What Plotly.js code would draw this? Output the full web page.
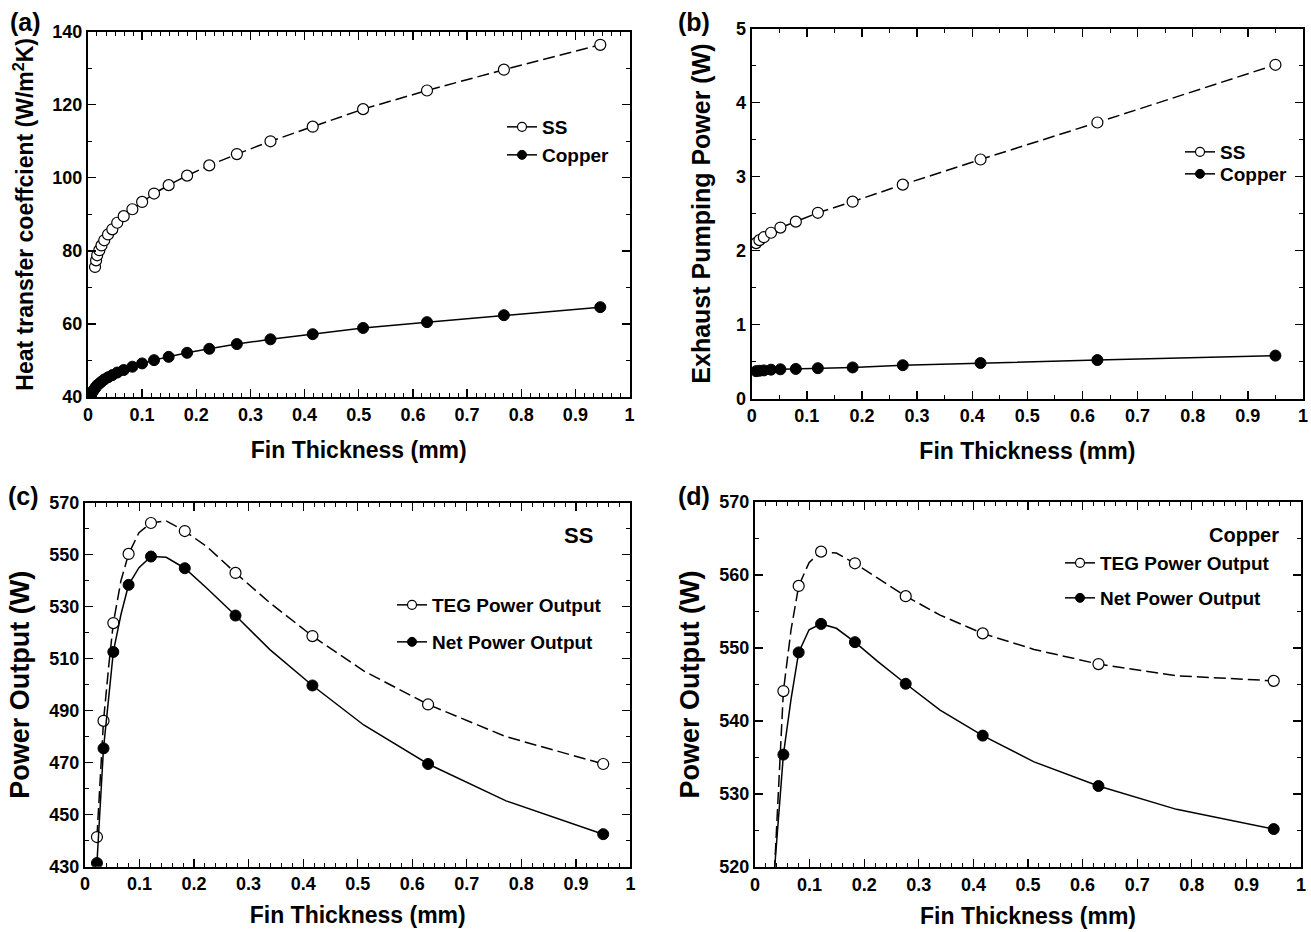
<!DOCTYPE html>
<html>
<head>
<meta charset="utf-8">
<script src="https://cdn.plot.ly/plotly-3.0.1.min.js"></script>
<style>html,body{margin:0;padding:0;background:#fff}#chart{width:1311px;height:932px}</style>
</head>
<body>
<div id="chart"></div>
<script>
// ---------- Data ----------
// (a) Heat transfer coefficient
const a_x_ss = [0.013,0.015,0.017,0.021,0.025,0.030,0.037,0.045,0.054,0.066,0.082,0.100,0.122,0.149,0.183,0.224,0.275,0.337,0.415,0.508,0.626,0.768,0.946];
const a_ss   = [75.6,77.4,78.8,80.2,81.5,82.9,84.5,85.9,87.7,89.5,91.4,93.4,95.7,98.0,100.6,103.4,106.5,110.0,114.0,118.8,123.9,129.6,136.4];
const a_x_cu = [0.005,0.007,0.009,0.011,0.013,0.015,0.017,0.021,0.025,0.030,0.037,0.045,0.054,0.066,0.082,0.100,0.122,0.149,0.183,0.224,0.275,0.337,0.415,0.508,0.626,0.768,0.946];
const a_cu   = [40.6,41.1,41.6,42.0,42.4,42.8,43.2,43.7,44.2,44.8,45.4,46.0,46.7,47.4,48.3,49.2,50.1,51.0,52.1,53.2,54.5,55.8,57.2,58.9,60.5,62.4,64.6];

// (b) Exhaust pumping power
const b_x  = [0.008,0.014,0.022,0.035,0.052,0.080,0.120,0.183,0.274,0.415,0.627,0.950];
const b_ss = [2.10,2.14,2.18,2.24,2.31,2.39,2.51,2.66,2.89,3.23,3.73,4.51];
const b_cu = [0.37,0.375,0.38,0.39,0.395,0.40,0.41,0.42,0.45,0.48,0.52,0.58];

// (c) Power output, SS
const c_x   = [0.022,0.029,0.034,0.044,0.052,0.066,0.080,0.099,0.121,0.149,0.183,0.224,0.276,0.339,0.417,0.511,0.629,0.772,0.95];
const c_teg = [441.4,468,486.1,508,523.7,540,550.3,558.5,562.2,563,559.1,553,543.0,531.5,518.7,505.3,492.4,480,469.5];
const c_net = [431.4,456,475.5,496,512.6,527,538.4,545,549.3,549,544.8,537,526.6,513.5,499.7,484.5,469.5,455.3,442.5];
const c_marked = [0,2,4,6,8,10,12,14,16,18];

// (d) Power output, Copper
const d_x   = [0.034,0.044,0.052,0.066,0.080,0.099,0.121,0.149,0.183,0.224,0.276,0.339,0.417,0.511,0.629,0.772,0.95];
const d_teg = [517,532,544.1,552.5,558.5,561.7,563.2,563,561.6,559.6,557.1,554.5,552.0,549.8,547.8,546.2,545.5];
const d_net = [518,527,535.4,543,549.4,552.5,553.3,552.7,550.8,548.2,545.1,541.5,538.0,534.4,531.1,527.9,525.2];
const d_marked = [2,4,6,8,10,12,14,16];

const lbl_ss = 'SS', lbl_cu = 'Copper', lbl_teg = 'TEG Power Output', lbl_net = 'Net Power Output';

// ---------- Styling ----------
const F = 'Liberation Sans, Arial, sans-serif';
const DASH = '12px,5px';
const openM = {symbol:'circle', size:11, color:'white', line:{color:'black', width:1.2}};
const fillM = {symbol:'circle', size:11, color:'black', line:{color:'black', width:1}};
const pick = (arr, idx) => idx.map(i => arr[i]);

const traces = [];
function series(x, y, xa, ya, dash, marker, mx, my){
  traces.push({x:x, y:y, xaxis:xa, yaxis:ya, mode:'lines', line:{color:'black', width:1.5, dash:dash}, showlegend:false, hoverinfo:'skip'});
  traces.push({x:mx, y:my, xaxis:xa, yaxis:ya, mode:'markers', marker:marker, showlegend:false});
}
function legendEntry(name, marker, lg, xa, ya){
  traces.push({x:[null], y:[null], xaxis:xa, yaxis:ya, mode:'lines+markers', name:name, legend:lg,
    line:{color:'black', width:1.5}, marker:Object.assign({}, marker, {size:9})});
}

// (a)
series(a_x_ss, a_ss, 'x', 'y', DASH, openM, a_x_ss, a_ss);
series(a_x_cu, a_cu, 'x', 'y', 'solid', fillM, a_x_cu, a_cu);
legendEntry(lbl_ss, openM, 'legend', 'x', 'y');
legendEntry(lbl_cu, fillM, 'legend2', 'x', 'y');
// (b)
series(b_x, b_ss, 'x2', 'y2', DASH, openM, b_x, b_ss);
series(b_x, b_cu, 'x2', 'y2', 'solid', fillM, b_x, b_cu);
legendEntry(lbl_ss, openM, 'legend3', 'x2', 'y2');
legendEntry(lbl_cu, fillM, 'legend4', 'x2', 'y2');
// (c)
series(c_x, c_teg, 'x3', 'y3', DASH, openM, pick(c_x, c_marked), pick(c_teg, c_marked));
series(c_x, c_net, 'x3', 'y3', 'solid', fillM, pick(c_x, c_marked), pick(c_net, c_marked));
legendEntry(lbl_teg, openM, 'legend5', 'x3', 'y3');
legendEntry(lbl_net, fillM, 'legend6', 'x3', 'y3');
// (d)
series(d_x, d_teg, 'x4', 'y4', DASH, openM, pick(d_x, d_marked), pick(d_teg, d_marked));
series(d_x, d_net, 'x4', 'y4', 'solid', fillM, pick(d_x, d_marked), pick(d_net, d_marked));
legendEntry(lbl_teg, openM, 'legend7', 'x4', 'y4');
legendEntry(lbl_net, fillM, 'legend8', 'x4', 'y4');

function ax(o){
  return Object.assign({
    showline:true, linewidth:2, linecolor:'black', mirror:'ticks',
    ticks:'inside', ticklen:8, tickwidth:1.3, tickcolor:'black',
    showgrid:false, zeroline:false, automargin:false, fixedrange:true,
    tickfont:{family:F, size:18, color:'black', weight:'bold'},
  }, o);
}
const tf = s => ({family:F, size:s, color:'black', weight:'bold'});
const xTitle = 'Fin Thickness (mm)';
const mn = (d) => ({dtick:d, ticklen:4, ticks:'inside', tickcolor:'black', tickwidth:1});

// one legend per entry: text starts at tx, item centred at cy (pixels)
function leg(tx, cy){
  return {x:(tx-40)/1311, y:1-(cy-19)/932, xanchor:'left', yanchor:'top', bgcolor:'rgba(0,0,0,0)', borderwidth:0,
    font:{family:F, size:19, color:'black', weight:'bold'}, itemwidth:30};
}

const layout = {
  width:1311, height:932, margin:{l:0, r:0, t:0, b:0},
  paper_bgcolor:'white', plot_bgcolor:'white', showlegend:true,
  xaxis: ax({domain:[0.0671,0.4802], range:[0,1], dtick:0.1, anchor:'y', minor:mn(1/60),
    title:{text:xTitle, font:tf(23), standoff:18}}),
  yaxis: ax({domain:[0.574,0.966], range:[40,140], dtick:20, anchor:'x', minor:mn(10),
    title:{text:'Heat transfer coeffcient (W/m<sup>2</sup>K)', font:tf(23), standoff:12}}),
  xaxis2: ax({domain:[0.5734,0.9939], range:[0,1], dtick:0.1, anchor:'y2', minor:mn(0.05),
    title:{text:xTitle, font:tf(23), standoff:18}}),
  yaxis2: ax({domain:[0.5724,0.9694], range:[0,5], dtick:1, anchor:'x2', minor:mn(0.5),
    title:{text:'Exhaust Pumping Power (W)', font:tf(25), standoff:18}}),
  xaxis3: ax({domain:[0.0648,0.4809], range:[0,1], dtick:0.1, anchor:'y3', minor:mn(0.02),
    title:{text:xTitle, font:tf(23), standoff:14}}),
  yaxis3: ax({domain:[0.0701,0.4606], range:[430,570], dtick:20, tick0:430, anchor:'x3', minor:{dtick:10, tick0:430, ticklen:4, ticks:'inside', tickcolor:'black', tickwidth:1},
    title:{text:'Power Output (W)', font:tf(27), standoff:12}}),
  xaxis4: ax({domain:[0.5759,0.9924], range:[0,1], dtick:0.1, anchor:'y4', minor:mn(0.02),
    title:{text:xTitle, font:tf(23), standoff:14}}),
  yaxis4: ax({domain:[0.0697,0.4614], range:[520,570], dtick:10, anchor:'x4', minor:mn(5),
    title:{text:'Power Output (W)', font:tf(27), standoff:12}}),
  legend:  leg(542, 127),
  legend2: leg(542, 155),
  legend3: leg(1220, 152),
  legend4: leg(1220, 174),
  legend5: leg(432, 605),
  legend6: leg(432, 642),
  legend7: leg(1100, 563),
  legend8: leg(1100, 598),
  annotations: [
    {text:'(a)', x:8/1311, y:1-22/932, xref:'paper', yref:'paper', xanchor:'left', yanchor:'middle', showarrow:false, font:tf(25)},
    {text:'(b)', x:676/1311, y:1-22/932, xref:'paper', yref:'paper', xanchor:'left', yanchor:'middle', showarrow:false, font:tf(25)},
    {text:'(c)', x:6/1311, y:1-496/932, xref:'paper', yref:'paper', xanchor:'left', yanchor:'middle', showarrow:false, font:tf(25)},
    {text:'(d)', x:676/1311, y:1-496/932, xref:'paper', yref:'paper', xanchor:'left', yanchor:'middle', showarrow:false, font:tf(25)},
    {text:'SS', x:595/1311, y:1-535/932, xref:'paper', yref:'paper', xanchor:'right', yanchor:'middle', showarrow:false, font:tf(22)},
    {text:'Copper', x:1281/1311, y:1-535/932, xref:'paper', yref:'paper', xanchor:'right', yanchor:'middle', showarrow:false, font:tf(20)}
  ]
};

Plotly.newPlot('chart', traces, layout, {displayModeBar:false, staticPlot:true});
</script>
</body>
</html>
